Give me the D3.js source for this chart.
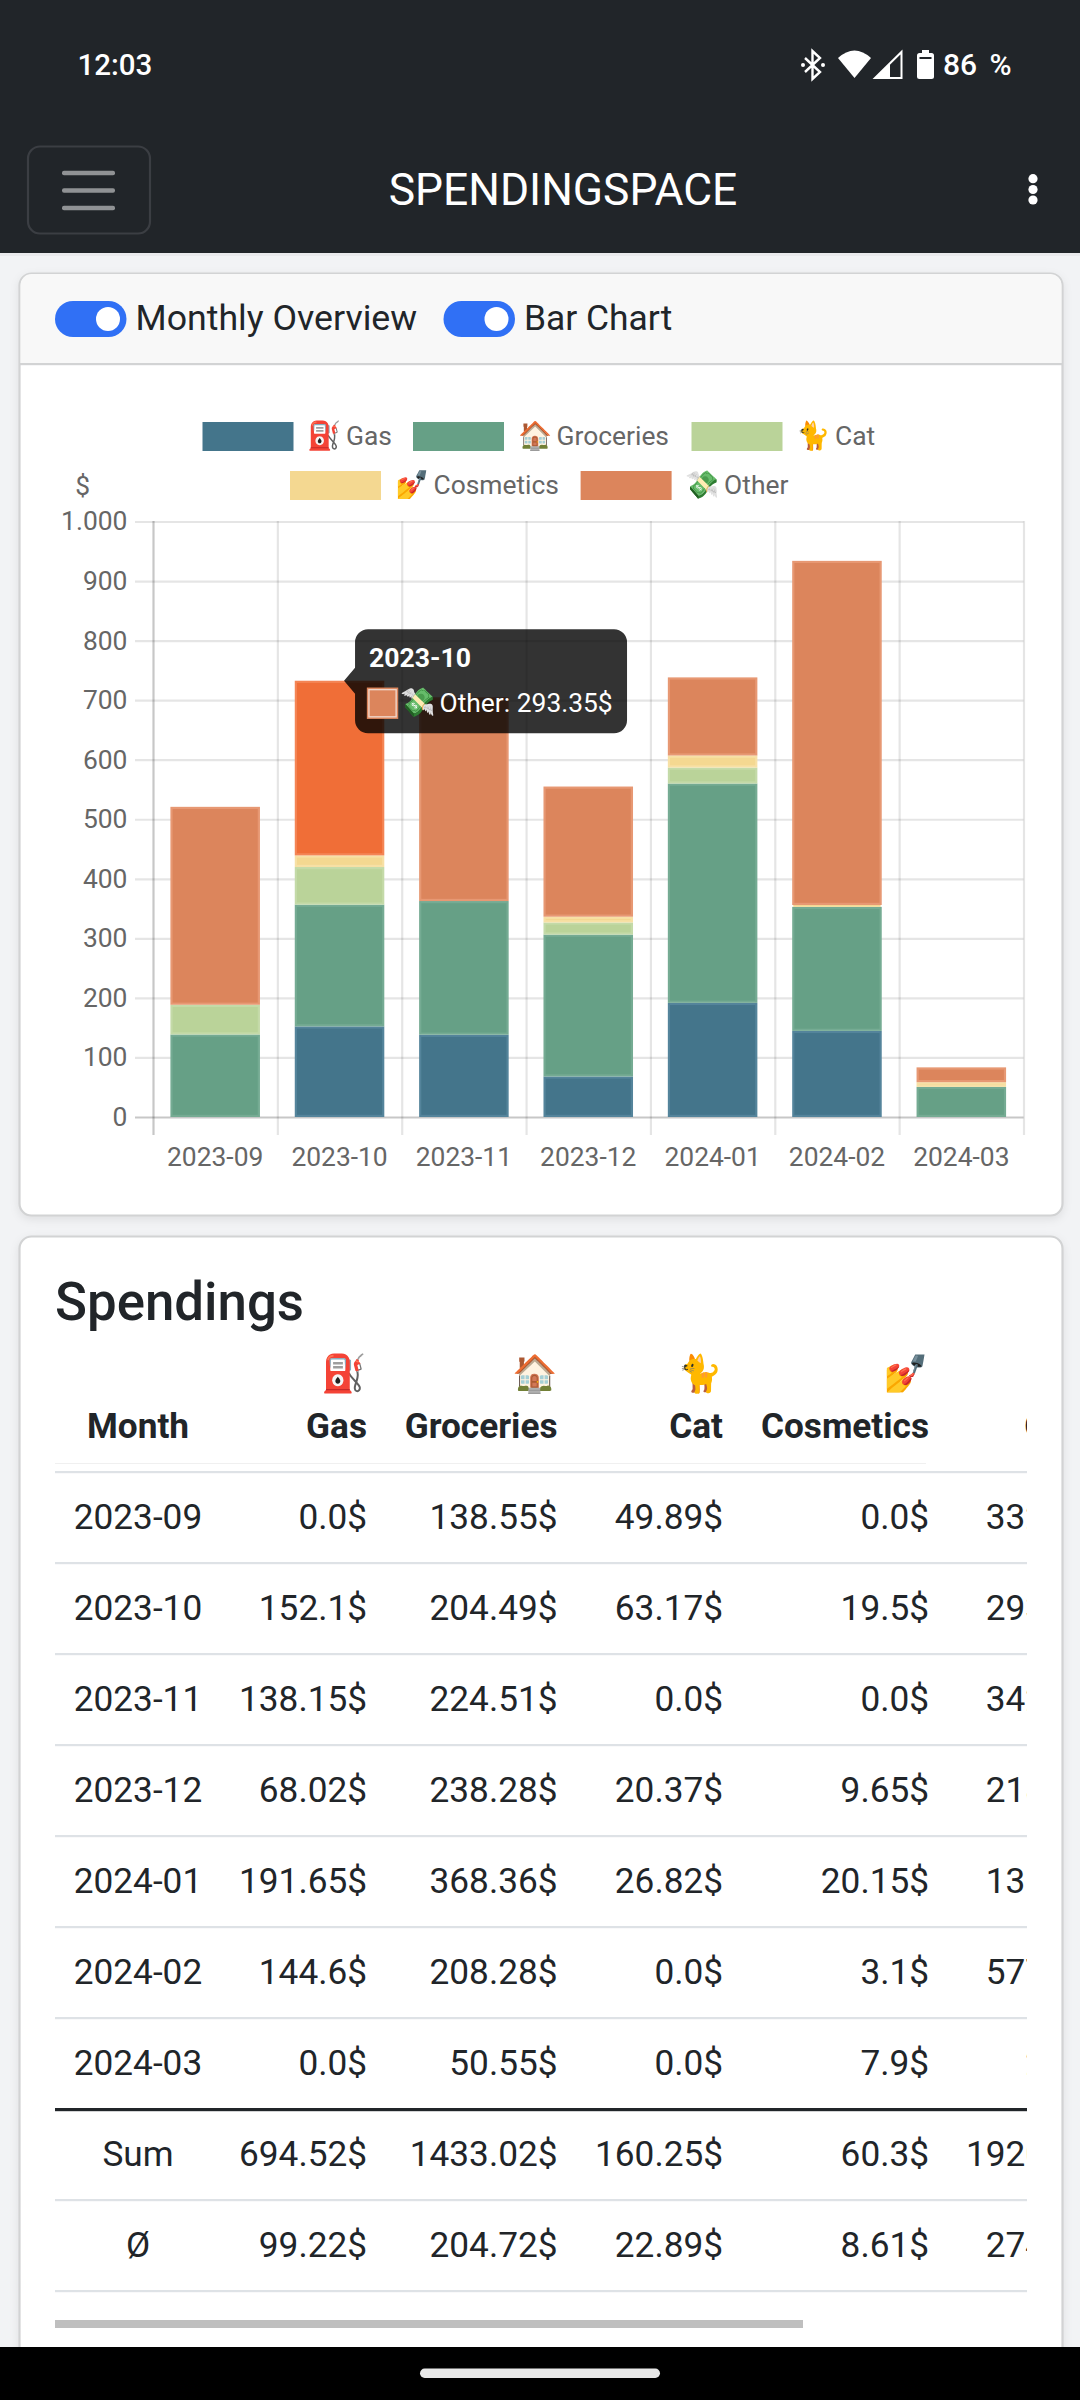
<!DOCTYPE html>
<html><head><meta charset="utf-8">
<script src="https://cdnjs.cloudflare.com/ajax/libs/d3/7.8.5/d3.min.js"></script>
<style>
html,body{margin:0;padding:0;background:#f2f3f5;}
svg{display:block;font-family:Roboto,sans-serif;}
text{font-family:Roboto,"Noto Color Emoji",sans-serif;}
</style></head><body><svg id="c" width="1080" height="2400"></svg>
<script>
const months=["2023-09","2023-10","2023-11","2023-12","2024-01","2024-02","2024-03"];
const seriesNames=["Gas","Groceries","Cat","Cosmetics","Other"];
const seriesEmoji=["⛽","🏠","🐈","💅","💸"];
const seriesColors=["#44758b","#66a086","#bad399","#f4d891","#dc855c"];
const seriesEdges=["#54849b","#75ab93","#c4daa8","#f7e0a5","#e79873"];
const gas=[0.0,152.1,138.15,68.02,191.65,144.6,0.0];
const groceries=[138.55,204.49,224.51,238.28,368.36,208.28,50.55];
const cat=[49.89,63.17,0.0,20.37,26.82,0.0,0.0];
const cosmetics=[0.0,19.5,0.0,9.65,20.15,3.1,7.9];
const other=[332.41,293.35,342.13,218.62,131.24,577.93,24.9];
const sumRow=[694.52,1433.02,160.25,60.3,1920.58];
const avgRow=[99.22,204.72,22.89,8.61,274.37];
const yTicks=[0,100,200,300,400,500,600,700,800,900,1000];
const tooltipMonth="2023-10", tooltipSeries=4;

const allSeries=[gas,groceries,cat,cosmetics,other];
const svg=d3.select("#c");
const fmt=v=>(Number.isInteger(v)?v.toFixed(1):String(v))+"$";
const T=(g,x,y,s,o={})=>g.append("text").attr("x",x).attr("y",y).attr("dy","0.36em").text(s)
  .attr("font-size",o.size||35.2).attr("font-weight",o.weight||400).attr("fill",o.fill||"#212529").attr("text-anchor",o.anchor||"start");

// page chrome
svg.append("rect").attr("width",1080).attr("height",2400).attr("fill","#f2f3f5");
svg.append("rect").attr("width",1080).attr("height",253).attr("fill","#212529");
svg.append("rect").attr("x",0).attr("y",253).attr("width",1080).attr("height",3).attr("fill","#e9eaec");
T(svg,77.5,64,"12:03",{size:29.5,weight:500,fill:"#fff"});
T(svg,943,64,"86 %",{size:30,fill:"#fff",weight:500}).style("word-spacing","5px");
// status icons
const st=svg.append("g");
st.append("path").attr("d","M805 58 L820 72 L812.5 79 L812.5 51 L820 58 L805 72").attr("fill","none").attr("stroke","#fff").attr("stroke-width",2.4);
st.append("circle").attr("cx",803).attr("cy",65).attr("r",2).attr("fill","#fff");
st.append("circle").attr("cx",823).attr("cy",65).attr("r",2).attr("fill","#fff");
st.append("path").attr("d","M838 58 Q854.5 43 871 58 L854.5 78 Z").attr("fill","#fff");
st.append("path").attr("d","M875 78 L901.5 52 L901.5 78 Z").attr("fill","none").attr("stroke","#fff").attr("stroke-width",2);
st.append("path").attr("d","M875 78 L890 63 L890 78 Z").attr("fill","#fff");
st.append("rect").attr("x",917).attr("y",53).attr("width",17).attr("height",26).attr("rx",2.5).attr("fill","#fff");
st.append("rect").attr("x",922).attr("y",50).attr("width",7).attr("height",4).attr("fill","#fff");
st.append("rect").attr("x",919.5).attr("y",57).attr("width",12).attr("height",2).attr("fill","#212529");
// nav
svg.append("rect").attr("x",28).attr("y",146.5).attr("width",122).attr("height",87).attr("rx",12).attr("fill","none").attr("stroke","#3b3e43").attr("stroke-width",2.2);
svg.selectAll(".burger").data([173,190.5,208]).join("rect").attr("class","burger").attr("x",62).attr("y",d=>d-2.2).attr("width",53).attr("height",4.4).attr("rx",2).attr("fill","#909294");
T(svg,563,189.5,"SPENDINGSPACE",{size:44.4,fill:"#fff",anchor:"middle"});
svg.selectAll(".dot").data([178.7,189.5,200]).join("circle").attr("class","dot").attr("cx",1033).attr("cy",d=>d).attr("r",4.6).attr("fill","#fff");

// cards
const card=(y,h)=>svg.append("rect").attr("x",19.5).attr("y",y).attr("width",1043).attr("height",h).attr("rx",12).attr("fill","#fff").attr("stroke","#d2d3d4").attr("stroke-width",2.2).style("filter","drop-shadow(0 3px 4px rgba(0,0,0,.08))");
card(273.5,942);
card(1236.5,1180);
svg.append("path").attr("d","M20.6 364 V285 a11 11 0 0 1 11 -11 H1050 a11 11 0 0 1 11.4 11 V364 Z").attr("fill","#f8f8f8");
svg.append("rect").attr("x",19.5).attr("y",363).attr("width",1043).attr("height",2.2).attr("fill","#d2d3d4");
[[55,"Monthly Overview",35.7],[443.5,"Bar Chart",35.4]].forEach(([x,s,fs])=>{
  svg.append("rect").attr("x",x).attr("y",301).attr("width",71.5).attr("height",36).attr("rx",18).attr("fill","#3070f5");
  svg.append("circle").attr("cx",x+53).attr("cy",319).attr("r",12).attr("fill","#fff");
  T(svg,x+80.5,317.5,s,{size:fs});
});

// legend
const legendRows=[[0,202.5],[1,413],[2,691.5],[3,290],[4,580.6]];
legendRows.forEach(([i,x],k)=>{
  const cy=k<3?436.5:485.5;
  svg.append("rect").attr("x",x).attr("y",cy-14.5).attr("width",91).attr("height",29).attr("fill",seriesColors[i]);
  T(svg,x+105,cy-1.5,seriesEmoji[i],{size:27.5,fill:"#666"});
  T(svg,x+143.5,cy-1.5,seriesNames[i],{size:26.4,fill:"#666"});
});
T(svg,82.6,485,"$",{size:26.4,fill:"#666",anchor:"middle"});

// chart
const x=d3.scaleBand().domain(months).range([153,1023.5]).paddingInner(.28).paddingOuter(.14);
const xEdge=d3.scaleLinear().domain([0,months.length]).range([153,1023.5]);
const y=d3.scaleLinear().domain([0,1000]).range([1117,521.5]);
const yAxis=d3.axisLeft(y).tickValues(yTicks).tickSizeInner(-(1023.5-135)).tickSizeOuter(0).tickPadding(7.6)
  .tickFormat(d=>d3.format(",")(d).replace(",","."));
const yg=svg.append("g").attr("transform","translate(135,0)").call(yAxis);
yg.select(".domain").remove();
yg.selectAll("line").attr("stroke",d=>d===0?"rgba(0,0,0,.22)":"rgba(0,0,0,.1)").attr("stroke-width",2.2);
yg.selectAll("text").attr("font-size",26.4).attr("fill","#666").attr("font-family","Roboto");
const xg=svg.append("g").attr("transform","translate(0,521)").call(d3.axisBottom(xEdge).tickValues(d3.range(months.length+1)).tickSizeInner(614).tickSizeOuter(0).tickFormat(""));
xg.select(".domain").remove();
xg.selectAll("line").attr("stroke",d=>d===0?"rgba(0,0,0,.22)":"rgba(0,0,0,.1)").attr("stroke-width",2.2);
const xl=svg.append("g").attr("transform","translate(0,1147.5)").call(d3.axisBottom(x).tickSize(0).tickPadding(0));
xl.select(".domain").remove();
xl.selectAll("text").attr("font-size",26.4).attr("fill","#666").attr("font-family","Roboto").attr("dy","0.71em");

const stack=d3.stack().keys(d3.range(5)).value((d,k)=>allSeries[k][d])(d3.range(months.length));
const layers=svg.append("g").selectAll("g").data(stack).join("g");
const isHover=(k,i)=>k===tooltipSeries&&months[i]===tooltipMonth;
layers.selectAll("rect").data((s,k)=>s.map((d,i)=>({k,i,y0:d[0],y1:d[1]})).filter(d=>d.y1>d.y0)).join("rect")
  .attr("x",d=>x(months[d.i])+1.1).attr("width",x.bandwidth()-2.2)
  .attr("y",d=>y(d.y1)+(y(d.y0)-y(d.y1)>2.2?1.1:0))
  .attr("height",d=>Math.max(y(d.y0)-y(d.y1)-2.2,1.8))
  .attr("fill",d=>isHover(d.k,d.i)?"#f06e37":seriesColors[d.k])
  .attr("stroke",d=>isHover(d.k,d.i)?"#f48555":seriesEdges[d.k])
  .attr("stroke-width",d=>y(d.y0)-y(d.y1)>2.2?2.2:0);

// tooltip anchored to its bar
const ti=months.indexOf(tooltipMonth);
const ax=x(tooltipMonth)+x.bandwidth()/2+4.5, ay=y(stack[tooltipSeries][ti][1]);
const tipL=ax+11, tipT=ay-51.5;
const tip=svg.append("g");
const tipW=272,tipH=104,r=13;
tip.append("path").attr("fill","rgba(0,0,0,.8)").attr("d",`M${ax} ${ay} L${tipL} ${ay-13} V${tipT+r} a${r} ${r} 0 0 1 ${r} ${-r} H${tipL+tipW-r} a${r} ${r} 0 0 1 ${r} ${r} V${tipT+tipH-r} a${r} ${r} 0 0 1 ${-r} ${r} H${tipL+r} a${r} ${r} 0 0 1 ${-r} ${-r} V${ay+13} Z`);
T(tip,tipL+14,tipT+28,tooltipMonth,{size:26.6,weight:700,fill:"#fff"});
tip.append("rect").attr("x",tipL+13.5).attr("y",tipT+60).attr("width",28).attr("height",28).attr("fill","#dc855c").attr("stroke","#f0d5c8").attr("stroke-width",2.2);
tip.append("rect").attr("x",tipL+12.5).attr("y",tipT+59).attr("width",30).attr("height",30).attr("fill","none").attr("stroke","#dc855c").attr("stroke-width",1.4);
T(tip,tipL+45,tipT+73,seriesEmoji[tooltipSeries],{size:28.5,fill:"#fff"});
T(tip,tipL+84.5,tipT+73,seriesNames[tooltipSeries]+": "+fmt(other[ti]),{size:26.4,fill:"#fff"});

// table
T(svg,55,1301,"Spendings",{size:52.8,weight:500});
const defs=svg.append("defs");
defs.append("clipPath").attr("id","tc").append("rect").attr("x",55).attr("y",1330).attr("width",972).attr("height",990);
const tb=svg.append("g").attr("clip-path","url(#tc)");
const colRight=[367,557.5,723,929,1113.6];
const headerRight=[367,557.5,723,929,1112];
const monthCx=138;
T(tb,monthCx,1425,"Month",{weight:700,anchor:"middle"});
seriesNames.forEach((s,i)=>{
  T(tb,headerRight[i],1373,seriesEmoji[i],{anchor:"end",size:36.5});
  T(tb,headerRight[i],1425,s,{weight:700,anchor:"end"});
});
tb.append("rect").attr("x",47).attr("y",1463).attr("width",879).attr("height",1).attr("fill","#f0f0f0");
const rowY=i=>1516.3+91*i;
const rows=months.map((m,i)=>[m,...allSeries.map(a=>a[i])]);
rows.push(["Sum",...sumRow]);rows.push(["Ø",...avgRow]);
rows.forEach((r,i)=>{
  tb.append("rect").attr("x",55).attr("y",rowY(i)-45.3).attr("width",972).attr("height",i===7?3.2:2.2).attr("fill",i===7?"#212529":"#dee2e6");
  T(tb,monthCx,rowY(i),r[0],{anchor:"middle"});
  r.slice(1).forEach((v,k)=>T(tb,colRight[k],rowY(i),fmt(v),{anchor:"end"}));
});
tb.append("rect").attr("x",55).attr("y",rowY(9)-45.3).attr("width",972).attr("height",2.2).attr("fill","#dee2e6");
svg.append("rect").attr("x",55).attr("y",2320).attr("width",748).attr("height",8).attr("fill","#bfbfbf");

// nav bar
svg.append("rect").attr("y",2347).attr("width",1080).attr("height",53).attr("fill","#000");
svg.append("rect").attr("x",420).attr("y",2368.5).attr("width",240).attr("height",9.5).attr("rx",4.7).attr("fill","#e8e8e8");
</script></body></html>
